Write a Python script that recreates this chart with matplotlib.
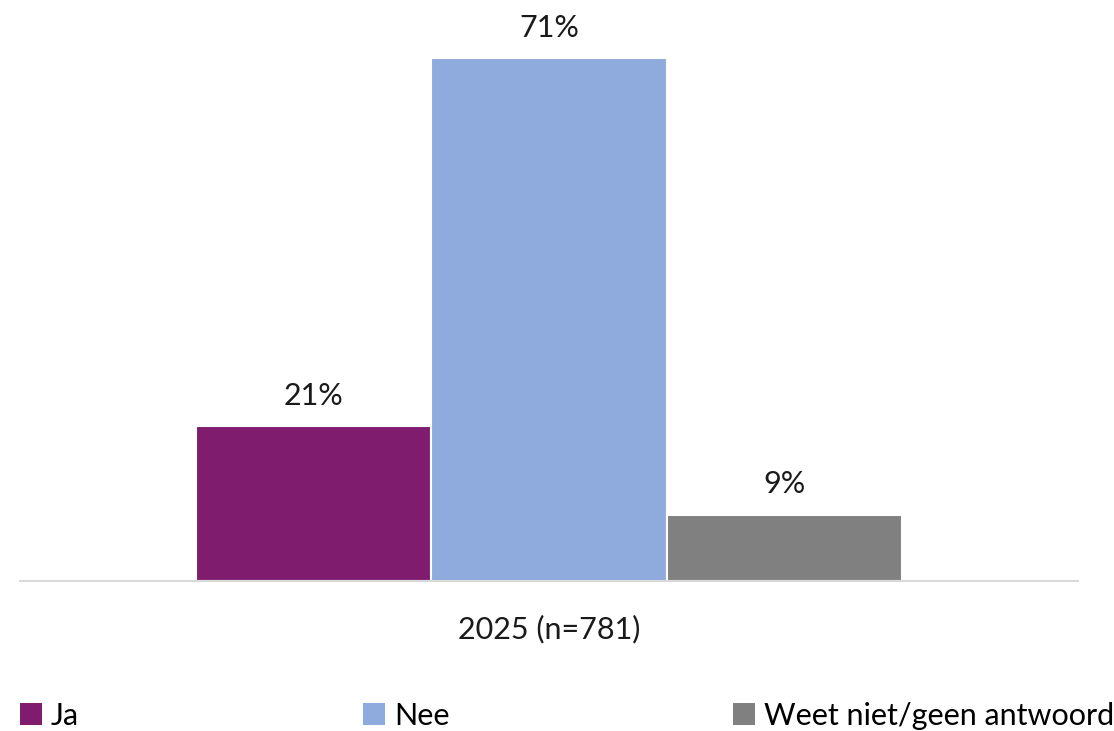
import matplotlib.pyplot as plt
from matplotlib.patches import Patch

categories = ["Ja", "Nee", "Weet niet/geen antwoord"]
values = [21, 71, 9]
group_label = "2025 (n=781)"
colors = ["#7F1C6E", "#8FAADC", "#808080"]

plt.rcParams['font.family'] = ['Lato', 'DejaVu Sans']

W, H = 1114, 731
fig = plt.figure(figsize=(W / 100, H / 100), dpi=100)
ax = fig.add_axes([20 / W, 1 - 581 / H, 1058 / W, 552 / H])

positions = [-1, 0, 1]
bars = ax.bar(positions, values, width=1.0, color=colors,
              edgecolor="white", linewidth=1.5)
ax.bar_label(bars, labels=[f"{v}%" for v in values], padding=12,
             fontsize=22, color="#1a1a1a")

ax.set_xlim(-2.25, 2.25)
ax.set_ylim(0, 75)
ax.set_yticks([])
ax.set_xticks([0])
ax.set_xticklabels([group_label], fontsize=22, color="#1a1a1a")
ax.tick_params(axis="x", length=0, pad=24)
for side in ("top", "right", "left"):
    ax.spines[side].set_visible(False)
ax.spines["bottom"].set_color("#D9D9D9")
ax.spines["bottom"].set_linewidth(1.5)

handles = [Patch(facecolor=c, edgecolor="none") for c in colors]
fig.legend(handles, categories, loc="lower left",
           bbox_to_anchor=(-1 / W, -20 / H), ncol=3, frameon=False,
           fontsize=22, handlelength=0.7, handleheight=0.7,
           handletextpad=0.3, columnspacing=9.3, borderaxespad=0.3)

fig.savefig("out.png", dpi=100)
